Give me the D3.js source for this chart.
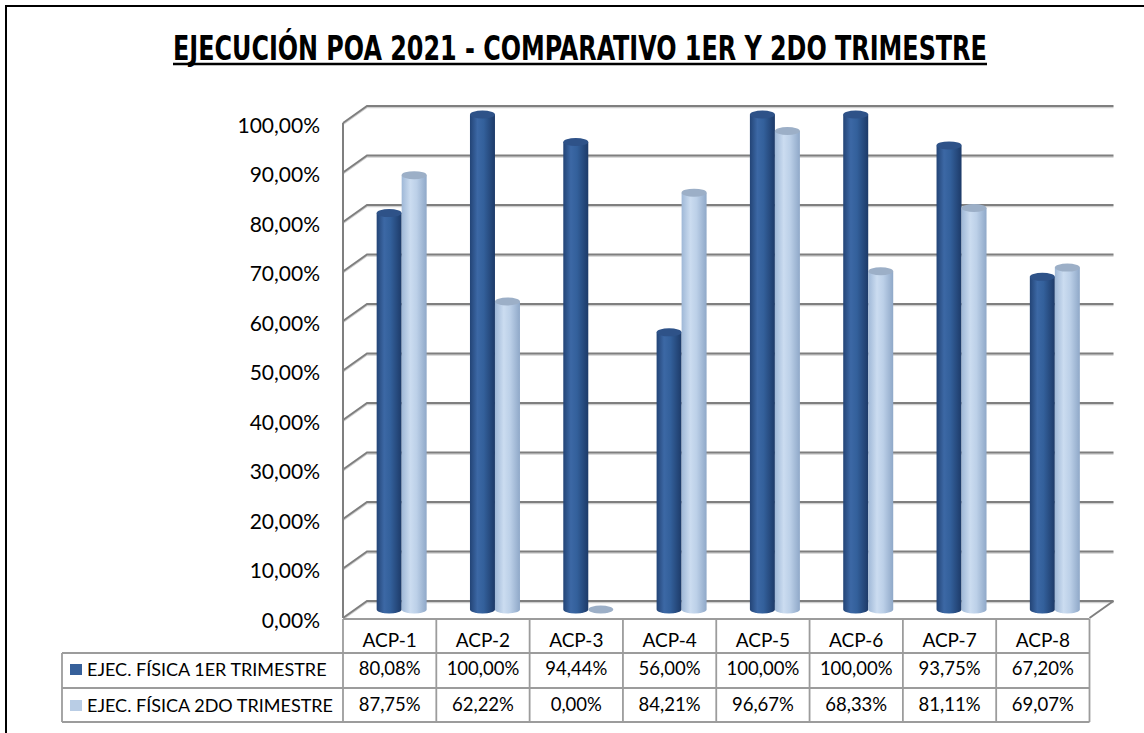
<!DOCTYPE html>
<html lang="es">
<head>
    <meta charset="UTF-8">
    <title>Ejecución POA 2021</title>
    <script src="https://cdn.jsdelivr.net/npm/d3@7"></script>
    <style>
        body { margin: 0; background: #fff; }
        text { font-family: Lato, "Open Sans", sans-serif; fill: #000; }
    </style>
</head>
<body>
<svg width="1144" height="733"></svg>
<script>
// data
const categories = ["ACP-1", "ACP-2", "ACP-3", "ACP-4", "ACP-5", "ACP-6", "ACP-7", "ACP-8"];
const seriesNames = ["EJEC. FÍSICA 1ER TRIMESTRE", "EJEC. FÍSICA 2DO TRIMESTRE"];
const primerTrimestre = [80.08, 100.00, 94.44, 56.00, 100.00, 100.00, 93.75, 67.20];
const segundoTrimestre = [87.75, 62.22, 0.00, 84.21, 96.67, 68.33, 81.11, 69.07];
const yTicks = [0, 10, 20, 30, 40, 50, 60, 70, 80, 90, 100];
const title = "EJECUCIÓN POA 2021 - COMPARATIVO 1ER Y 2DO TRIMESTRE";

const fmt = v => v.toFixed(2).replace(".", ",") + "%";

const svg = d3.select("svg");

// 3d depth offset of the box
const dx = 24, dy = -17;

const xScale = d3.scaleBand().domain(categories).range([343, 1089.5]).padding(0);
const yScale = d3.scaleLinear().domain([0, 100]).range([618, 123]);
const inner = d3.scaleBand().domain([0, 1])
    .range([xScale.bandwidth() / 2 - 25 + dx / 2, xScale.bandwidth() / 2 + 25 + dx / 2]);

// outer frame
svg.append("line").attr("x1", 5).attr("x2", 1144).attr("y1", 6).attr("y2", 6)
    .attr("stroke", "#000").attr("stroke-width", 2);
svg.append("line").attr("x1", 6).attr("x2", 6).attr("y1", 5).attr("y2", 733)
    .attr("stroke", "#000").attr("stroke-width", 2);

// title, squeezed horizontally to the width of the original
const titleX0 = 173, titleX1 = 987;
const titleText = svg.append("text")
    .attr("x", 0).attr("y", 0)
    .style("font-family", "'Liberation Sans Narrow', 'DejaVu Sans Condensed', sans-serif")
    .style("font-weight", "bold")
    .style("font-size", "33px")
    .text(title);
const natural = titleText.node().getComputedTextLength();
titleText.attr("transform", `translate(${titleX0},60) scale(${(titleX1 - titleX0) / natural},1)`);
svg.append("line").attr("x1", titleX0).attr("x2", titleX1).attr("y1", 64).attr("y2", 64)
    .attr("stroke", "#000").attr("stroke-width", 2.5);

// gradients for cylinders
const defs = svg.append("defs");
const grads = [
    {id: "g0", stops: [[0, "#234476"], [0.3, "#3c68a5"], [0.55, "#33609b"], [1, "#1d3a68"]]},
    {id: "g1", stops: [[0, "#9fb8d7"], [0.35, "#cbdcf0"], [0.6, "#bcd0e8"], [1, "#8fa8c8"]]}
];
grads.forEach(g => {
    const lg = defs.append("linearGradient").attr("id", g.id)
        .attr("x1", "0%").attr("x2", "100%").attr("y1", "0%").attr("y2", "0%");
    g.stops.forEach(s => lg.append("stop").attr("offset", s[0]).attr("stop-color", s[1]));
});
const topColors = ["#2e5288", "#9cafc7"];

// gridlines: side wall diagonal + back wall line
const grid = svg.append("g");
yTicks.forEach(t => {
    const yf = yScale(t);
    grid.append("path")
        .attr("d", `M343,${yf + 1.5}L${343 + dx},${yf + dy + 1.5}L${1089.5 + dx},${yf + dy + 1.5}`)
        .attr("fill", "none").attr("stroke", "#d0d0d0").attr("stroke-width", 1.5);
    grid.append("path")
        .attr("d", `M343,${yf}L${343 + dx},${yf + dy}L${1089.5 + dx},${yf + dy}`)
        .attr("fill", "none").attr("stroke", "#7f7f7f").attr("stroke-width", 2);
});
// floor right edge and axis line
grid.append("path")
    .attr("d", `M${1089.5 + dx},${yScale(0) + dy}L1089.5,${yScale(0)}`)
    .attr("fill", "none").attr("stroke", "#7f7f7f").attr("stroke-width", 2);
grid.append("line").attr("x1", 343).attr("x2", 343)
    .attr("y1", yScale(100)).attr("y2", yScale(0))
    .attr("stroke", "#7f7f7f").attr("stroke-width", 2);

// y labels
svg.append("g").selectAll("text").data(yTicks).join("text")
    .attr("x", 320).attr("y", d => yScale(d) + 9.5)
    .attr("text-anchor", "end")
    .style("font-size", "21px")
    .text(d => fmt(d));

// cylinders
const ry = 4;
const yMid = v => yScale(v) + dy / 2;
const bars = [];
categories.forEach((c, i) => {
    bars.push({cat: c, s: 0, v: primerTrimestre[i]});
    bars.push({cat: c, s: 1, v: segundoTrimestre[i]});
});
const gBars = svg.append("g");
bars.forEach(b => {
    const x0 = xScale(b.cat) + inner(b.s);
    const w = inner.bandwidth();
    const yb = yMid(0), yt = yMid(b.v);
    const g = gBars.append("g");
    if (b.v > 0) {
        g.append("path")
            .attr("d", `M${x0},${yt}L${x0},${yb}A${w / 2},${ry} 0 0 0 ${x0 + w},${yb}L${x0 + w},${yt}Z`)
            .attr("fill", `url(#g${b.s})`);
    }
    g.append("ellipse")
        .attr("cx", x0 + w / 2).attr("cy", yt)
        .attr("rx", w / 2).attr("ry", ry)
        .attr("fill", topColors[b.s]);
});

// data table
const tableLeft = 62;
const rowLines = [619, 653, 688, 722];
const tbl = svg.append("g").attr("stroke", "#9c9c9c").attr("stroke-width", 1.8);
tbl.append("line").attr("x1", 343).attr("x2", 1089.5).attr("y1", rowLines[0]).attr("y2", rowLines[0]);
rowLines.slice(1).forEach(y => {
    tbl.append("line").attr("x1", tableLeft).attr("x2", 1089.5).attr("y1", y).attr("y2", y);
});
tbl.append("line").attr("x1", tableLeft).attr("x2", tableLeft).attr("y1", rowLines[1]).attr("y2", rowLines[3]);
categories.concat([null]).forEach(c => {
    const x = c === null ? 1089.5 : xScale(c);
    tbl.append("line").attr("x1", x).attr("x2", x).attr("y1", rowLines[0]).attr("y2", rowLines[3]);
});

const cx = c => xScale(c) + xScale.bandwidth() / 2;
svg.append("g").selectAll("text").data(categories).join("text")
    .attr("x", cx).attr("y", 647)
    .attr("text-anchor", "middle").style("font-size", "19px")
    .text(d => d);
[primerTrimestre, segundoTrimestre].forEach((vals, s) => {
    const base = [675, 711][s];
    svg.append("g").selectAll("text").data(vals).join("text")
        .attr("x", (d, i) => cx(categories[i])).attr("y", base)
        .attr("text-anchor", "middle").style("font-size", "18.5px")
        .text(d => fmt(d));
    // legend key
    svg.append("rect").attr("x", 70).attr("y", base - 11).attr("width", 12).attr("height", 11)
        .attr("fill", ["#36609a", "#b9cde5"][s]);
    svg.append("text").attr("x", 87).attr("y", base + 1)
        .style("font-size", "18px")
        .text(seriesNames[s]);
});
</script>
</body>
</html>
